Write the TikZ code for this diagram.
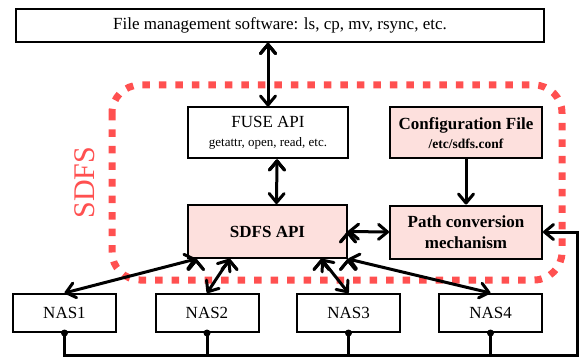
\documentclass[tikz,border=0pt]{standalone}
\usepackage{fontspec}
\setmainfont{Liberation Serif}
\usetikzlibrary{arrows.meta}
\definecolor{sdfsred}{RGB}{255,80,80}
\definecolor{sdfspink}{RGB}{253,224,221}
\begin{document}
\begin{tikzpicture}[x=1pt, y=-1pt,
  box/.style={shape=rectangle, draw=black, line width=2pt, inner sep=0pt, align=center, font=\fontsize{17}{20.5}\selectfont},
  apibox/.style={box, fill=sdfspink, font=\fontsize{17}{20.5}\selectfont\bfseries},
  nasbox/.style={box, minimum width=103pt, minimum height=38pt},
  twoway/.style={{Straight Barb[length=9pt,width=15pt,round]}-{Straight Barb[length=9pt,width=15pt,round]}, line width=3pt},
  oneway/.style={-{Straight Barb[length=9pt,width=15pt,round]}, line width=3pt},
  link/.style={-, line width=3pt}]
\useasboundingbox (0,0) rectangle (583,358);
\draw[sdfsred, line width=7pt, dash pattern=on 7.5pt off 9pt, rounded corners=28pt] (112,85) rectangle (562,280);
\node[rotate=90, text=sdfsred, font=\fontsize{30}{30}\selectfont] (sdfs) at (85,182.5) {SDFS};
\node[box, minimum width=528pt, minimum height=33pt] (top) at (280,25.5) {File management software: ls, cp, mv, rsync, etc.};
\node[box, minimum width=160pt, minimum height=51pt] (fuse) at (268,133) {FUSE API\\[-2pt]{\fontsize{13}{15}\selectfont getattr, open, read, etc.}};
\node[apibox, minimum width=152pt, minimum height=51pt] (conf) at (466,133) {Configuration File\\[-2pt]{\fontsize{13.5}{15}\selectfont /etc/sdfs.conf}};
\node[apibox, minimum width=159pt, minimum height=53pt] (api) at (267.5,231.5) {SDFS API};
\node[apibox, minimum width=152pt, minimum height=53pt] (path) at (466,232) {Path conversion\\mechanism};
\node[nasbox] (nas1) at (64.5,313) {NAS1};
\node[nasbox] (nas2) at (207,313) {NAS2};
\node[nasbox] (nas3) at (348.5,313) {NAS3};
\node[nasbox] (nas4) at (490.5,313) {NAS4};
\coordinate (busend) at (577,355);
\path [twoway, draw=black] (top.south -| fuse.north) edge (fuse.north);
\path [twoway, draw=black] ([xshift=9pt]fuse.south) edge ([xshift=9pt]api.north);
\draw [oneway] (conf.south) -- (path.north);
\path [twoway, draw=black] (api.east) edge (path.west);
\path [twoway, draw=black] ([xshift=9pt]api.south west) edge (nas1.north);
\path [twoway, draw=black] ([xshift=-38pt]api.south) edge (nas2.north);
\path [twoway, draw=black] ([xshift=54pt]api.south) edge (nas3.north);
\path [twoway, draw=black] (api.south east) edge (nas4.north);
\draw [oneway] (nas1.south) |- (busend) |- (path.east);
\path [link, draw=black] (nas2.south) edge (nas2.south |- busend);
\path [link, draw=black] (nas3.south) edge (nas3.south |- busend);
\path [link, draw=black] (nas4.south) edge (nas4.south |- busend);
\foreach \n in {nas1,nas2,nas3,nas4} \fill (\n.south) circle (3.5pt);
\end{tikzpicture}
\end{document}
